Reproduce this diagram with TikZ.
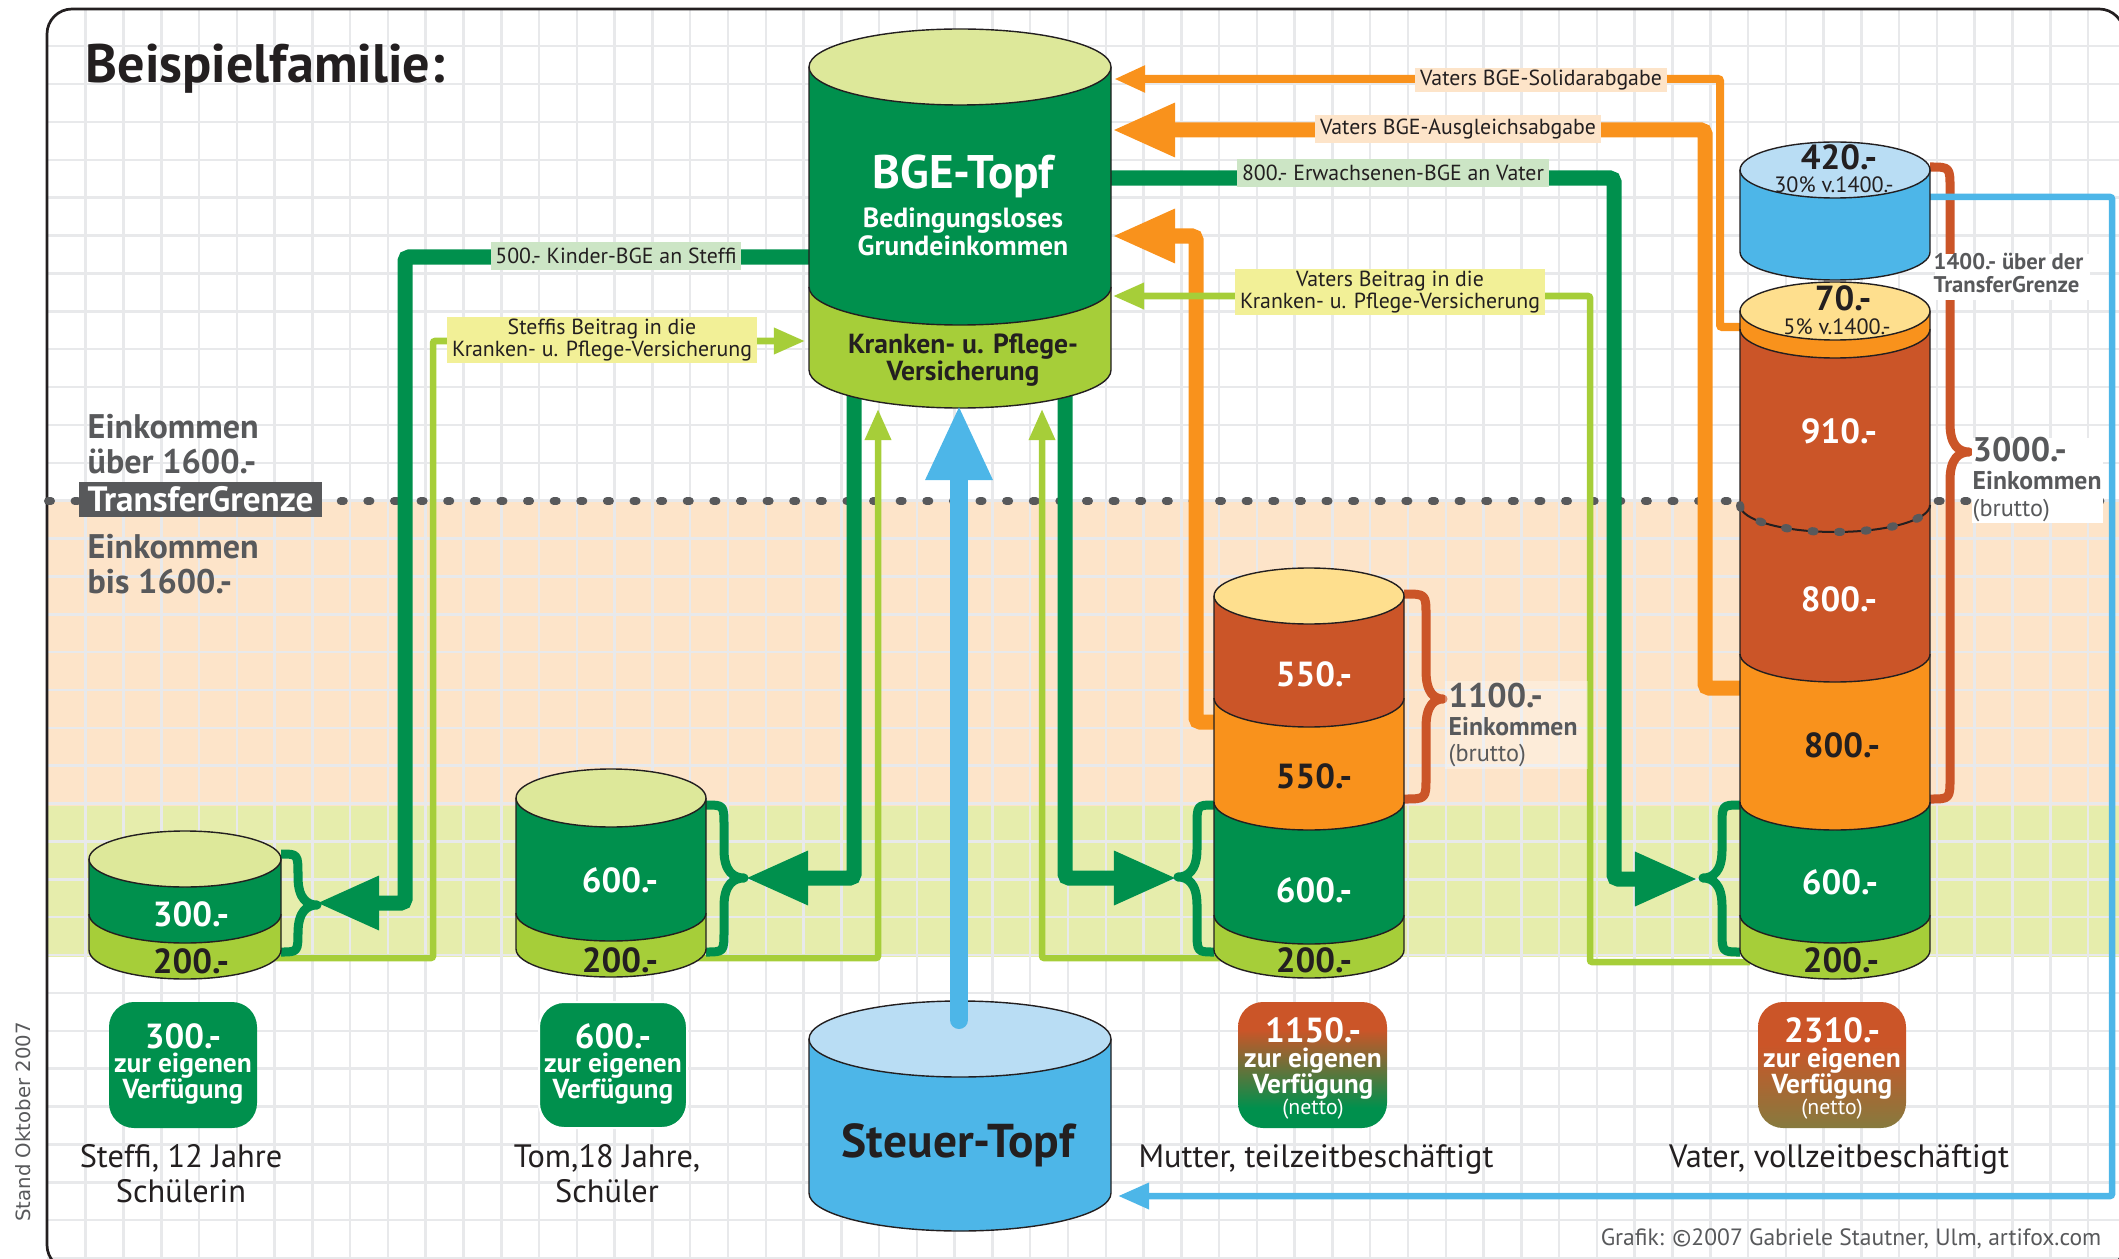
\documentclass[tikz,border=0pt]{standalone}
\usepackage{fontspec}
\setmainfont{PT Sans}
\newfontfamily\wideface{DejaVu Sans}
\usetikzlibrary{arrows.meta}
\definecolor{cgreen}{HTML}{00904D}
\definecolor{clime}{HTML}{A6CE39}
\definecolor{crust}{HTML}{CB5528}
\definecolor{corange}{HTML}{F9921C}
\definecolor{cblue}{HTML}{4DB6E8}
\definecolor{clblue}{HTML}{B9DDF4}
\definecolor{cyellow}{HTML}{FEDF8E}
\definecolor{cpale}{HTML}{DDE89A}
\definecolor{cpeach}{HTML}{FDE4C9}
\definecolor{cband}{HTML}{E6EDAC}
\definecolor{cgrid}{HTML}{E8E9EB}
\definecolor{cdark}{HTML}{231F20}
\definecolor{cgray}{HTML}{58595B}
\definecolor{cllime}{HTML}{F2F097}
\definecolor{clgreen}{HTML}{CCE5C5}
\definecolor{colive}{HTML}{867A3E}
\pgfdeclareverticalshading{mothergrad}{100bp}{color(0bp)=(cgreen); color(33bp)=(cgreen); color(64bp)=(crust); color(100bp)=(crust)}
\pgfdeclareverticalshading{fathergrad}{100bp}{color(0bp)=(colive); color(25bp)=(colive); color(58bp)=(crust); color(100bp)=(crust)}
\newcommand{\halfell}[4]{({#1-#3},#2) .. controls ({#1-#3},{#2+0.5523*#4}) and ({#1-0.5523*#3},{#2+#4}) .. (#1,{#2+#4}) .. controls ({#1+0.5523*#3},{#2+#4}) and ({#1+#3},{#2+0.5523*#4}) .. ({#1+#3},#2)}
\newcommand{\seg}[6]{\filldraw[cylline,fill=#6] ({#1-#4},#2) -- \halfell{#1}{#3}{#4}{#5} -- ({#1+#4},#2);}
\newcommand{\cyltop}[5]{\filldraw[cylline,fill=#5] (#1,#2) ellipse [x radius=#3,y radius=#4];}
\newcommand{\brc}[7]{\draw[bracestroke,color=#1] (#2,#5) .. controls (#3,#5) .. (#3,{#5+22}) -- (#3,{#6-28}) .. controls (#3,{#6-6}) and ({(#3+#4)/2},#6) .. (#4,#6) .. controls ({(#3+#4)/2},#6) and (#3,{#6+6}) .. (#3,{#6+28}) -- (#3,{#7-22}) .. controls (#3,#7) .. (#2,#7);}
\tikzset{
 cylline/.style={draw=cdark,line width=0.014cm},
 bracestroke/.style={line width=0.09cm,line join=round},
 thickconn/.style={line width=0.15cm,rounded corners=0.04cm},
 thinconn/.style={line width=0.065cm,rounded corners=0.02cm},
 bigtip/.style={-{Triangle[length=0.63cm,width=0.5cm]}},
 smalltip/.style={-{Triangle[length=0.31cm,width=0.25cm]}},
 lab/.style={inner sep=0pt,text=cdark,align=center,font=\fontsize{6.2}{6.26}\selectfont},
 val/.style={inner sep=0pt,font=\bfseries\fontsize{9.9}{10}\selectfont},
 wval/.style={val,text=white},
 dval/.style={val,text=cdark},
 persontext/.style={inner sep=0pt,text=cdark,align=center,font=\fontsize{9.2}{9.9}\selectfont},
 sidetext/.style={inner sep=0pt,anchor=base west,text=cgray},
 headg/.style={sidetext,font=\bfseries\fontsize{9.7}{10}\selectfont},
 ownbox/.style={draw=white,line width=0.02cm,rounded corners=0.25cm},
 boxtext/.style={inner sep=0pt,text=white,align=center,font=\bfseries\fontsize{7.8}{7.4}\selectfont},
 nettotext/.style={inner sep=0pt,text=white,font=\fontsize{6.2}{6.4}\selectfont},
}
\begin{document}
\begin{tikzpicture}[x=0.01cm,y=-0.01cm]
\useasboundingbox (0,0) rectangle (2119,1258);
\clip (0,0) rectangle (2119,1258);
% bands and grid
\fill[cpeach] (47,501) rectangle (2119,806);
\fill[cband] (47,806) rectangle (2119,957);
\foreach \k in {0,...,53} \draw[cgrid,line width=0.025cm] ({85.7+37.78*\k},9) -- ({85.7+37.78*\k},1258);
\foreach \k in {0,...,32} \draw[cgrid,line width=0.025cm] (47,{46.2+37.87*\k}) -- (2119,{46.2+37.87*\k});
\draw[cdark,line width=0.027cm,rounded corners=0.25cm] (47,9) rectangle (2124,1270);
\draw[cgray,line width=0.08cm,line cap=round,dash pattern=on 0.03cm off 0.236cm] (48,501) -- (2104,501);
% named connector ends
\coordinate (bgeKind) at (830,257);
\coordinate (steffiTip) at (316,903);
\coordinate (steffiOut) at (270,958);
\coordinate (bgeIn1) at (805,341);
\coordinate (bgeTom) at (854,395);
\coordinate (tomTip) at (745,878);
\coordinate (tomOut) at (696,958);
\coordinate (bgeLow1) at (878,409);
\coordinate (bgeMother) at (1065,395);
\coordinate (motherTip) at (1177,878);
\coordinate (motherOut) at (1225,958);
\coordinate (bgeLow2) at (1042,409);
\coordinate (motherOr) at (1225,722);
\coordinate (bgeOr1) at (1112,236);
\coordinate (fatherSol) at (1750,327);
\coordinate (bgeOr2) at (1114,79);
\coordinate (fatherAus) at (1750,688);
\coordinate (bgeOr3) at (1112,130);
\coordinate (bgeVater) at (1100,178);
\coordinate (fatherTip) at (1698,879);
\coordinate (fatherOut) at (1750,962);
\coordinate (bgeLow3) at (1113,296);
\coordinate (blueOut) at (1925,197);
\coordinate (steuerIn) at (1118,1196);
\coordinate (steuerUp) at (959,1020);
\coordinate (bgeBlue) at (959,405);
% rust braces
\brc{crust}{1404}{1426}{1443}{594}{699}{799}
\brc{crust}{1930}{1950}{1969}{167}{452}{799}
% orange connectors
\draw[thickconn,corange,bigtip] (motherOr) -- (1196,722) -- (1196,236) -- (bgeOr1);
\draw[thickconn,corange,bigtip] (fatherAus) -- (1705,688) -- (1705,130) -- (bgeOr3);
\draw[thinconn,line width=0.08cm,corange,smalltip] (fatherSol) -- (1720,327) -- (1720,79) -- (bgeOr2);
% green connectors
\draw[thickconn,cgreen,bigtip] (bgeKind) -- (405,257) -- (405,903) -- (steffiTip);
\draw[thickconn,cgreen,bigtip] (bgeTom) -- (854,878) -- (tomTip);
\draw[thickconn,cgreen,bigtip] (bgeMother) -- (1065,878) -- (motherTip);
\draw[thickconn,cgreen,bigtip] (bgeVater) -- (1614,178) -- (1614,879) -- (fatherTip);
% lime connectors
\draw[thinconn,clime,smalltip] (steffiOut) -- (433,958) -- (433,341) -- (bgeIn1);
\draw[thinconn,clime,smalltip] (tomOut) -- (878,958) -- (bgeLow1);
\draw[thinconn,clime,smalltip] (motherOut) -- (1042,958) -- (bgeLow2);
\draw[thinconn,clime,smalltip] (fatherOut) -- (1590,962) -- (1590,296) -- (bgeLow3);
% blue return
\draw[thinconn,cblue,smalltip] (blueOut) -- (2112,197) -- (2112,1196) -- (steuerIn);
% green braces
\brc{cgreen}{281}{298}{317}{854}{905}{952}
\brc{cgreen}{706}{724}{744}{805}{878}{952}
\brc{cgreen}{1214}{1197}{1178}{805}{877}{952}
\brc{cgreen}{1740}{1722}{1703}{805}{878}{952}
% BGE-Topf
\seg{960}{287}{370}{151}{38}{clime}
\seg{960}{67}{287}{151}{38}{cgreen}
\cyltop{960}{67}{151}{38}{cpale}
% Steuer-Topf
\seg{960}{1039}{1193}{151}{38}{cblue}
\cyltop{960}{1039}{151}{38}{clblue}
% Steffi
\seg{185}{914}{950}{96}{29}{clime}
\seg{185}{859}{914}{96}{29}{cgreen}
\cyltop{185}{859}{96}{28}{cpale}
% Tom
\seg{611}{913}{949}{95}{28}{clime}
\seg{611}{798}{913}{95}{28}{cgreen}
\cyltop{611}{798}{95}{29}{cpale}
% Mutter
\seg{1309}{915}{950}{95}{28}{clime}
\seg{1309}{802}{915}{95}{29}{cgreen}
\seg{1309}{698}{802}{95}{28}{corange}
\seg{1309}{596}{698}{95}{29}{crust}
\cyltop{1309}{596}{95}{28}{cyellow}
% Vater
\seg{1835}{915}{950}{95}{29}{clime}
\seg{1835}{802}{915}{95}{28}{cgreen}
\seg{1835}{654}{802}{95}{28}{corange}
\seg{1835}{329}{654}{95}{28}{crust}
\seg{1835}{311}{329}{95}{29}{corange}
\cyltop{1835}{311}{95}{29}{cyellow}
\draw[cylline,line width=0.02cm] \halfell{1835}{505}{95}{27};
\draw[cgray,line width=0.08cm,line cap=round,dash pattern=on 0.03cm off 0.236cm] \halfell{1835}{505}{95}{27};
\seg{1835}{170}{252}{95}{28}{cblue}
\cyltop{1835}{170}{95}{28}{clblue}
% big blue arrow
\draw[cblue,line width=0.18cm,line cap=round,-{Triangle[length=0.75cm,width=0.62cm]}] (steuerUp) -- (bgeBlue);
% connector labels
\node[lab,fill=clgreen,minimum width=2.49cm,minimum height=0.28cm] (lKind) at (616,256) {500.- Kinder-BGE an Steffi};
\node[lab,fill=cllime,minimum width=3.09cm,minimum height=0.46cm] (lSteffi) at (602,340) {Steffis Beitrag in die\\Kranken- u. Pflege-Versicherung};
\node[lab,fill=cpeach,minimum width=2.51cm,minimum height=0.24cm] (lSol) at (1541,80) {Vaters BGE-Solidarabgabe};
\node[lab,fill=cpeach,minimum width=2.85cm,minimum height=0.28cm] (lAus) at (1458,129) {Vaters BGE-Ausgleichsabgabe};
\node[lab,fill=clgreen,minimum width=3.12cm,minimum height=0.28cm] (lVater) at (1393,173) {800.- Erwachsenen-BGE an Vater};
\node[lab,fill=cllime,minimum width=3.09cm,minimum height=0.45cm] (lVaterB) at (1390,292) {Vaters Beitrag in die\\Kranken- u. Pflege-Versicherung};
% headings
\node[inner sep=0pt,anchor=base west,text=cdark,font=\bfseries\fontsize{15.4}{16}\selectfont] (title) at (85,83) {Beispielfamilie:};
\node[headg] (e1a) at (87,438) {Einkommen};
\node[headg] (e1b) at (87,473) {über 1600.-};
\node[fill=cgray,text=white,inner sep=0pt,minimum width=2.43cm,minimum height=0.35cm,font=\bfseries\fontsize{10}{10}\selectfont] (tg) at (200.5,499.5) {TransferGrenze};
\node[headg] (e2a) at (87,558) {Einkommen};
\node[headg] (e2b) at (87,593) {bis 1600.-};
% BGE text
\node[inner sep=0pt,text=white,font=\bfseries\fontsize{13.4}{14}\selectfont] (bge) at (963,176) {BGE-Topf};
\node[inner sep=0pt,text=white,align=center,font=\bfseries\fontsize{7.9}{8}\selectfont] (bge2) at (963,232) {Bedingungsloses\\Grundeinkommen};
\node[inner sep=0pt,text=cdark,align=center,font=\bfseries\fontsize{7.85}{7.9}\selectfont] (kv) at (963,360) {Kranken- u. Pflege-\\Versicherung};
\node[inner sep=0pt,text=cdark,font=\bfseries\fontsize{13.5}{14}\selectfont] (steuer) at (958,1145) {Steuer-Topf};
% values
\node[wval] (v1) at (191,914) {300.-};
\node[dval] (v2) at (191,961) {200.-};
\node[wval] (v3) at (620,880) {600.-};
\node[dval] (v4) at (620,960) {200.-};
\node[wval] (v5) at (1314,674) {550.-};
\node[dval] (v6) at (1314,776) {550.-};
\node[wval] (v7) at (1314,890) {600.-};
\node[dval] (v8) at (1314,960) {200.-};
\node[wval] (v9) at (1839,431) {910.-};
\node[wval] (v10) at (1839,599) {800.-};
\node[dval] (v11) at (1842,745) {800.-};
\node[wval] (v12) at (1840,882) {600.-};
\node[dval] (v13) at (1841,960) {200.-};
\node[dval] (v14) at (1839,157) {420.-};
\node[lab,font=\fontsize{6.3}{6.3}\selectfont] (v15) at (1834,185) {30\% v.1400.-};
\node[dval] (v16) at (1843,298) {70.-};
\node[lab,font=\fontsize{6.3}{6.3}\selectfont] (v17) at (1837,327) {5\% v.1400.-};
% side notes
\node[fill=white,minimum width=1.55cm,minimum height=0.46cm,inner sep=0pt,anchor=north west] (n1box) at (1934,253) {};
\node[sidetext,font=\bfseries\fontsize{6.45}{7}\selectfont] (n1a) at (1933,270) {1400.- über der};
\node[sidetext,font=\bfseries\fontsize{6.45}{7}\selectfont] (n1b) at (1933,293) {TransferGrenze};
\node[fill=white,minimum width=1.31cm,minimum height=0.85cm,inner sep=0pt,anchor=north west] (n2box) at (1971,437) {};
\node[sidetext,font=\bfseries\fontsize{9.7}{10}\selectfont] (n2a) at (1972,462) {3000.-};
\node[sidetext,font=\bfseries\fontsize{7.3}{8}\selectfont] (n2b) at (1972,489) {Einkommen};
\node[sidetext,font=\fontsize{6.9}{7}\selectfont] (n2c) at (1972,516) {(brutto)};
\node[fill=white,fill opacity=0.3,minimum width=1.43cm,minimum height=0.88cm,inner sep=0pt,anchor=north west] (n3box) at (1444,680) {};
\node[sidetext,font=\bfseries\fontsize{9.7}{10}\selectfont] (n3a) at (1448,707) {1100.-};
\node[sidetext,font=\bfseries\fontsize{7.3}{8}\selectfont] (n3b) at (1448,735) {Einkommen};
\node[sidetext,font=\fontsize{6.9}{7}\selectfont] (n3c) at (1448,761) {(brutto)};
% boxes
\fill[cgreen,rounded corners=0.25cm] (109,1002) rectangle (257,1128);
\draw[ownbox,fill=cgreen] (539,1002) rectangle (687,1128);
\path[rounded corners=0.25cm,shading=mothergrad] (1238,1002) rectangle (1387,1128);
\path[rounded corners=0.25cm,shading=fathergrad] (1758,1002) rectangle (1906,1128);
\node[wval] (b1a) at (183,1036) {300.-};
\node[boxtext] (b1b) at (183,1079) {zur eigenen\\Verfügung};
\node[wval] (b2a) at (613,1036) {600.-};
\node[boxtext] (b2b) at (613,1079) {zur eigenen\\Verfügung};
\node[wval] (b3a) at (1313,1030) {1150.-};
\node[boxtext] (b3b) at (1313,1074) {zur eigenen\\Verfügung};
\node[nettotext] (b3c) at (1313,1109) {(netto)};
\node[wval] (b4a) at (1832,1030) {2310.-};
\node[boxtext] (b4b) at (1832,1074) {zur eigenen\\Verfügung};
\node[nettotext] (b4c) at (1832,1109) {(netto)};
% names
\node[persontext,anchor=base] (p1a) at (181,1167) {Steffi, 12 Jahre};
\node[persontext,anchor=base] (p1b) at (181,1202) {Schülerin};
\node[persontext,anchor=base] (p2a) at (607,1167) {Tom,18 Jahre,};
\node[persontext,anchor=base] (p2b) at (607,1202) {Schüler};
\node[persontext,anchor=base] (p3) at (1316,1167) {Mutter, teilzeitbeschäftigt};
\node[persontext,anchor=base] (p4) at (1839,1167) {Vater, vollzeitbeschäftigt};
\node[inner sep=0pt,anchor=base east,text=cgray,font=\fontsize{6.7}{7}\selectfont] (credit) at (2102,1245) {Grafik: ©2007 Gabriele Stautner, Ulm, artifox.com};
\node[inner sep=0pt,rotate=90,text=cgray,font=\wideface\fontsize{5.6}{6}\selectfont] (stand) at (23,1122) {Stand Oktober 2007};
\end{tikzpicture}
\end{document}
